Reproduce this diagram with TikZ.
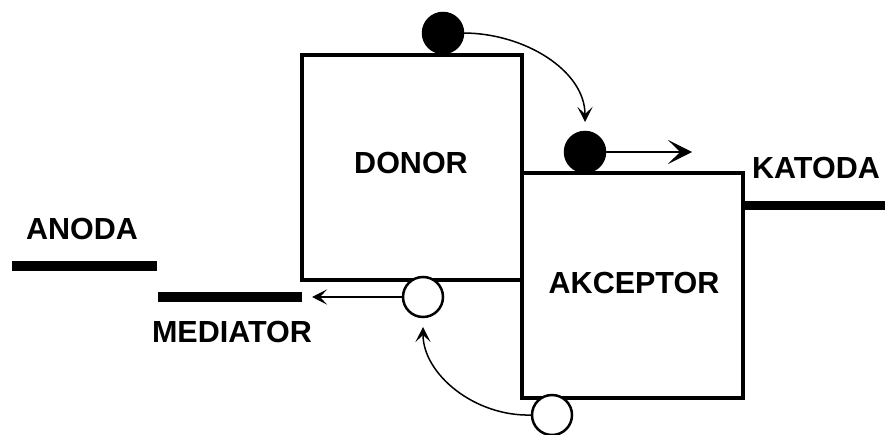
\documentclass[tikz,border=0pt]{standalone}
\usepackage{fontspec}
\setmainfont{Liberation Sans}
\usetikzlibrary{arrows.meta}
\begin{document}
\begin{tikzpicture}[x=1pt,y=-1pt,
  box/.style={draw,line width=3.5pt,minimum width=220pt,minimum height=225pt,inner sep=0pt,outer sep=0pt},
  full/.style={circle,draw,fill=black,line width=2.5pt,minimum size=40pt,inner sep=0pt,outer sep=0pt},
  hollow/.style={circle,draw,fill=white,line width=2.5pt,minimum size=40pt,inner sep=0pt,outer sep=0pt},
  lbl/.style={font=\fontsize{30.5}{36}\selectfont\bfseries,inner sep=0pt},
  electrode/.style={fill=black,inner sep=0pt,outer sep=0pt,minimum height=10pt},
  arr/.style={line width=1.5pt,-{Stealth[length=15pt,width=15pt,inset=7pt]}},
  bigarr/.style={line width=1.5pt,-{Stealth[length=24pt,width=24pt,inset=12pt]}}]
\useasboundingbox (0,0) rectangle (885,435);
\clip (0,0) rectangle (885,435);
% boxes
\node[box] (donor) at (412,167.5) {};
\node[box,minimum width=221pt] (akc) at (632.5,285.5) {};
% electrodes
\node[electrode,minimum width=145pt] (anode) at (84.5,266) {};
\node[electrode,minimum width=144pt] (med) at (230,297) {};
\node[electrode,minimum width=145pt,minimum height=9pt] (kat) at (815.5,206) {};
% labels
\node[lbl] (tdonor) at (411,163) {DONOR};
\node[lbl] (takc) at (634,283) {AKCEPTOR};
\node[lbl] (tanoda) at (82,229) {ANODA};
\node[lbl] (tmed) at (232,332) {MEDIATOR};
\node[lbl] (tkat) at (816,168) {KATODA};
% circles
\node[full] (e1) at (443,33) {};
\node[full] (e2) at (585,152) {};
\node[hollow] (h1) at (423,297) {};
\node[hollow] (h2) at (552,415) {};
\coordinate (kt) at (692,152);
% arrows
\draw[arr,shorten >=10pt] (e1.east) to[out=0,in=90] (e2.north);
\draw[bigarr] (e2.east) -- (kt);
\draw[arr,shorten >=10pt] (h1.west) -- (med.east);
\draw[arr,shorten >=10pt] (h2.west) to[out=182,in=-90] (h1.south);
\end{tikzpicture}
\end{document}
